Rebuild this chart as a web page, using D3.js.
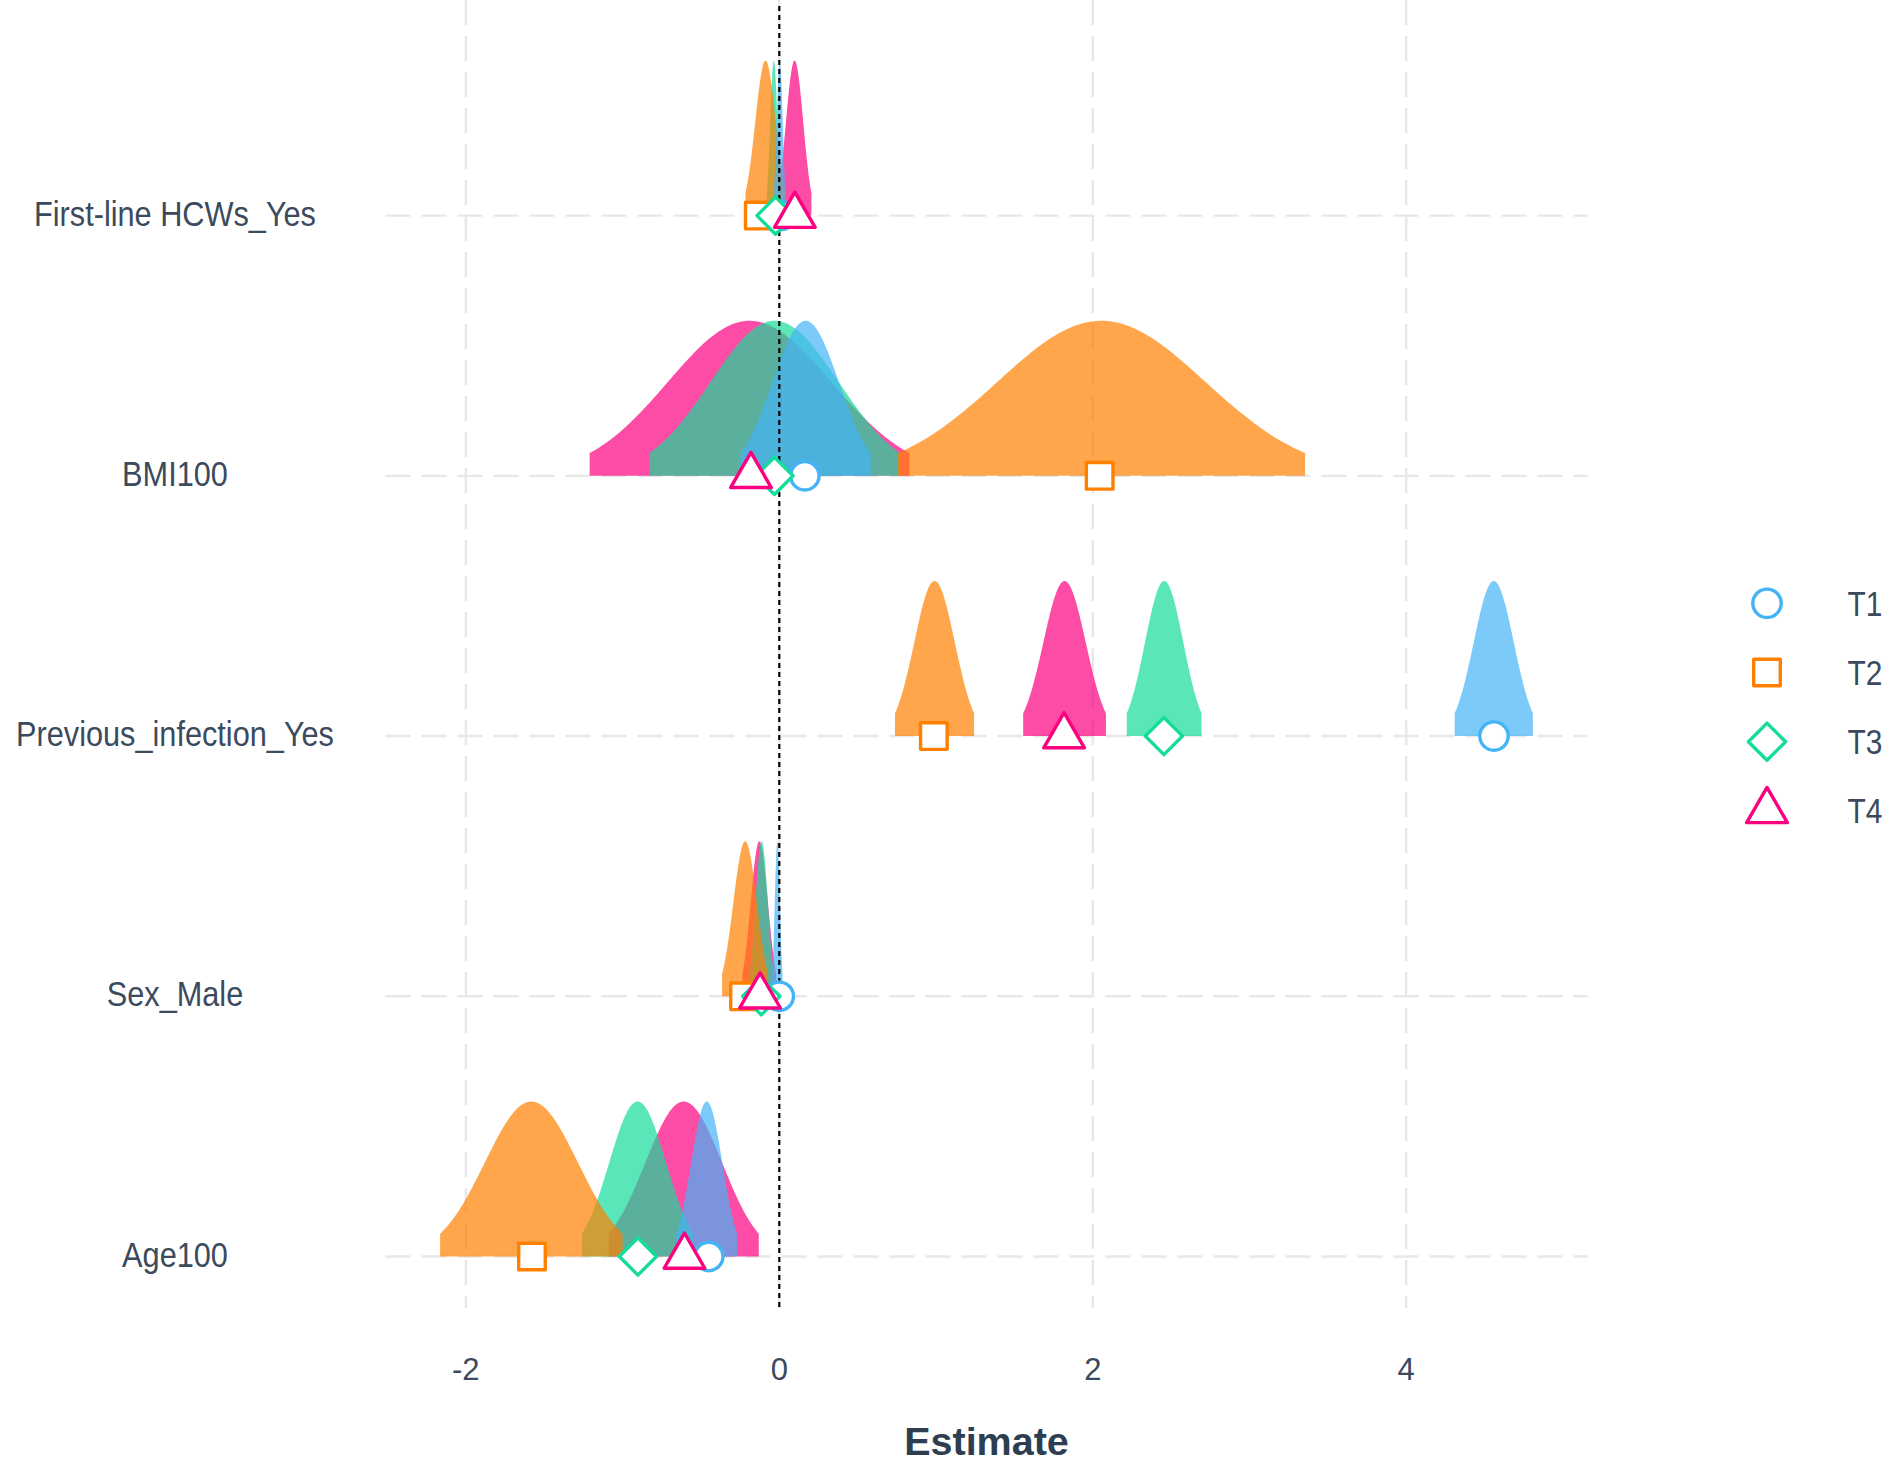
<!DOCTYPE html>
<html>
<head>
<meta charset="utf-8">
<script src="https://cdn.jsdelivr.net/npm/d3@7/dist/d3.min.js"></script>
<style>
  html, body { margin: 0; padding: 0; background: #ffffff; }
  svg { display: block; }
  text { font-family: "Liberation Sans", Arial, sans-serif; }
</style>
</head>
<body>
<svg id="chart" width="1889" height="1462"></svg>
<script>
// ---------------- data ----------------
const terms = ["First-line HCWs_Yes", "BMI100", "Previous_infection_Yes", "Sex_Male", "Age100"];
const groups = ["T1", "T2", "T3", "T4"];
const groupColors = ["#45b4f6", "#ff8000", "#14dc9a", "#fc0080"];
const xTicks = [-2, 0, 2, 4];

// point estimates (order of terms)
const estT1 = [0.010, 0.163, 4.560, 0.000, -0.450];
const estT2 = [-0.131, 2.044, 0.986, -0.225, -1.578];
const estT3 = [-0.024, -0.031, 2.454, -0.115, -0.902];
const estT4 = [0.099, -0.181, 1.817, -0.123, -0.605];

// 95% interval lower / upper bounds of the posterior densities
const loT1 = [-0.035, -0.247, 4.309, -0.045, -0.657];
const hiT1 = [0.040, 0.583, 4.808, 0.020, -0.269];
const loT2 = [-0.216, 0.755, 0.738, -0.365, -2.164];
const hiT2 = [0.040, 3.355, 1.243, -0.071, -1.000];
const loT3 = [-0.080, -0.830, 2.217, -0.190, -1.259];
const hiT3 = [0.010, 0.770, 2.694, -0.035, -0.549];
const loT4 = [-0.010, -1.210, 1.556, -0.235, -1.089];
const hiT4 = [0.205, 0.830, 2.084, -0.020, -0.131];

const estimates = [estT1, estT2, estT3, estT4];
const lowers = [loT1, loT2, loT3, loT4];
const uppers = [hiT1, hiT2, hiT3, hiT4];

// ---------------- build records ----------------
const records = [];
groups.forEach((g, gi) => {
  terms.forEach((t, ti) => {
    records.push({
      group: g, gi: gi, term: t,
      est: estimates[gi][ti], lo: lowers[gi][ti], hi: uppers[gi][ti]
    });
  });
});

// ---------------- layout ----------------
const svg = d3.select("#chart");
const panel = { left: 385.5, right: 1587.5, top: 0, bottom: 1308 };
const textColor = "#3b4a5c";
const squash = 0.853;

const allVals = records.flatMap(r => [r.lo, r.hi, r.est]);
const [dmin, dmax] = d3.extent(allVals);
const pad = (dmax - dmin) * 0.05;
const x = d3.scaleLinear().domain([dmin - pad, dmax + pad]).range([panel.left, panel.right]);
const y = d3.scalePoint().domain(terms).range([215.6, 1256.5]);
const hScale = d3.scaleLinear().domain([0, 1]).range([0, 155]);
const color = d3.scaleOrdinal().domain(groups).range(groupColors);

// grid lines
const grid = svg.append("g");
grid.selectAll("line.v").data(xTicks).enter().append("line")
  .attr("x1", d => x(d)).attr("x2", d => x(d))
  .attr("y1", panel.top).attr("y2", panel.bottom)
  .attr("stroke", "#e8e8e8").attr("stroke-width", 2.4)
  .attr("stroke-dasharray", "25,11");
grid.selectAll("line.h").data(terms).enter().append("line")
  .attr("x1", panel.left).attr("x2", panel.right)
  .attr("y1", d => y(d)).attr("y2", d => y(d))
  .attr("stroke", "#e8e8e8").attr("stroke-width", 2.4)
  .attr("stroke-dasharray", "25,11");

// densities (truncated to 95% interval, peak-normalised)
const z95 = 1.959964;
function densityPoints(r) {
  const mu = (r.lo + r.hi) / 2;
  const sd = (r.hi - r.lo) / (2 * z95);
  const n = 160;
  const pts = [];
  for (let i = 0; i <= n; i++) {
    const v = r.lo + (r.hi - r.lo) * i / n;
    pts.push({ v: v, d: Math.exp(-0.5 * Math.pow((v - mu) / sd, 2)) });
  }
  return pts;
}
const drawOrder = [3, 2, 1, 0]; // T4 bottom ... T1 top
const dens = svg.append("g");
terms.forEach(t => {
  drawOrder.forEach(gi => {
    const r = records.find(q => q.term === t && q.gi === gi);
    const base = y(t);
    const area = d3.area()
      .x(p => x(p.v))
      .y0(base)
      .y1(p => base - hScale(p.d));
    dens.append("path")
      .datum(densityPoints(r))
      .attr("d", area)
      .attr("fill", color(r.group))
      .attr("fill-opacity", 0.7)
      .attr("stroke", "none");
  });
});

// zero reference line
svg.append("line")
  .attr("x1", x(0)).attr("x2", x(0))
  .attr("y1", panel.top + 6).attr("y2", panel.bottom)
  .attr("stroke", "#000").attr("stroke-width", 2.2)
  .attr("stroke-dasharray", "5,4");

// marker shapes
function markerPath(gi) {
  if (gi === 0) { // circle
    const r = 14.2;
    return `M${-r},0A${r},${r} 0 1,0 ${r},0A${r},${r} 0 1,0 ${-r},0Z`;
  } else if (gi === 1) { // square
    const s = 13.3;
    return `M${-s},${-s}L${s},${-s}L${s},${s}L${-s},${s}Z`;
  } else if (gi === 2) { // diamond
    const s = 18.6;
    return `M0,${-s}L${s},0L0,${s}L${-s},0Z`;
  } else { // triangle, centred on centroid
    const w = 20.35, h = 35.2;
    return `M0,${-h * 2 / 3}L${w},${h / 3}L${-w},${h / 3}Z`;
  }
}
const marks = svg.append("g");
[0, 1, 2, 3].forEach(gi => {
  marks.selectAll(null).data(records.filter(r => r.gi === gi)).enter().append("path")
    .attr("d", markerPath(gi))
    .attr("transform", d => `translate(${x(d.est)},${y(d.term)})`)
    .attr("fill", "#ffffff")
    .attr("stroke", color(groups[gi]))
    .attr("stroke-width", 3.4)
    .attr("stroke-linejoin", "round");
});

// y axis labels
svg.append("g").selectAll("text").data(terms).enter().append("text")
  .attr("transform", d => `translate(175,${y(d) + 10}) scale(${squash},1)`)
  .attr("text-anchor", "middle")
  .attr("font-size", 36)
  .attr("fill", textColor)
  .text(d => d);

// x axis tick labels
svg.append("g").selectAll("text").data(xTicks).enter().append("text")
  .attr("x", d => x(d)).attr("y", 1379.5)
  .attr("text-anchor", "middle")
  .attr("font-size", 31)
  .attr("fill", textColor)
  .text(d => d);

// x axis title
svg.append("text")
  .attr("x", (panel.left + panel.right) / 2).attr("y", 1455)
  .attr("text-anchor", "middle")
  .attr("font-size", 39.5)
  .attr("font-weight", "bold")
  .attr("fill", "#2c3e50")
  .text("Estimate");

// legend
const legY = d3.scalePoint().domain(groups).range([603.3, 810.9]);
const leg = svg.append("g");
groups.forEach((g, gi) => {
  leg.append("path")
    .attr("d", markerPath(gi))
    .attr("transform", `translate(1767,${legY(g)})`)
    .attr("fill", "#ffffff")
    .attr("stroke", color(g))
    .attr("stroke-width", 3.4)
    .attr("stroke-linejoin", "round");
  leg.append("text")
    .attr("transform", `translate(1847.5,${legY(g) + 12.5}) scale(${squash},1)`)
    .attr("font-size", 35)
    .attr("fill", textColor)
    .text(g);
});
</script>
</body>
</html>
